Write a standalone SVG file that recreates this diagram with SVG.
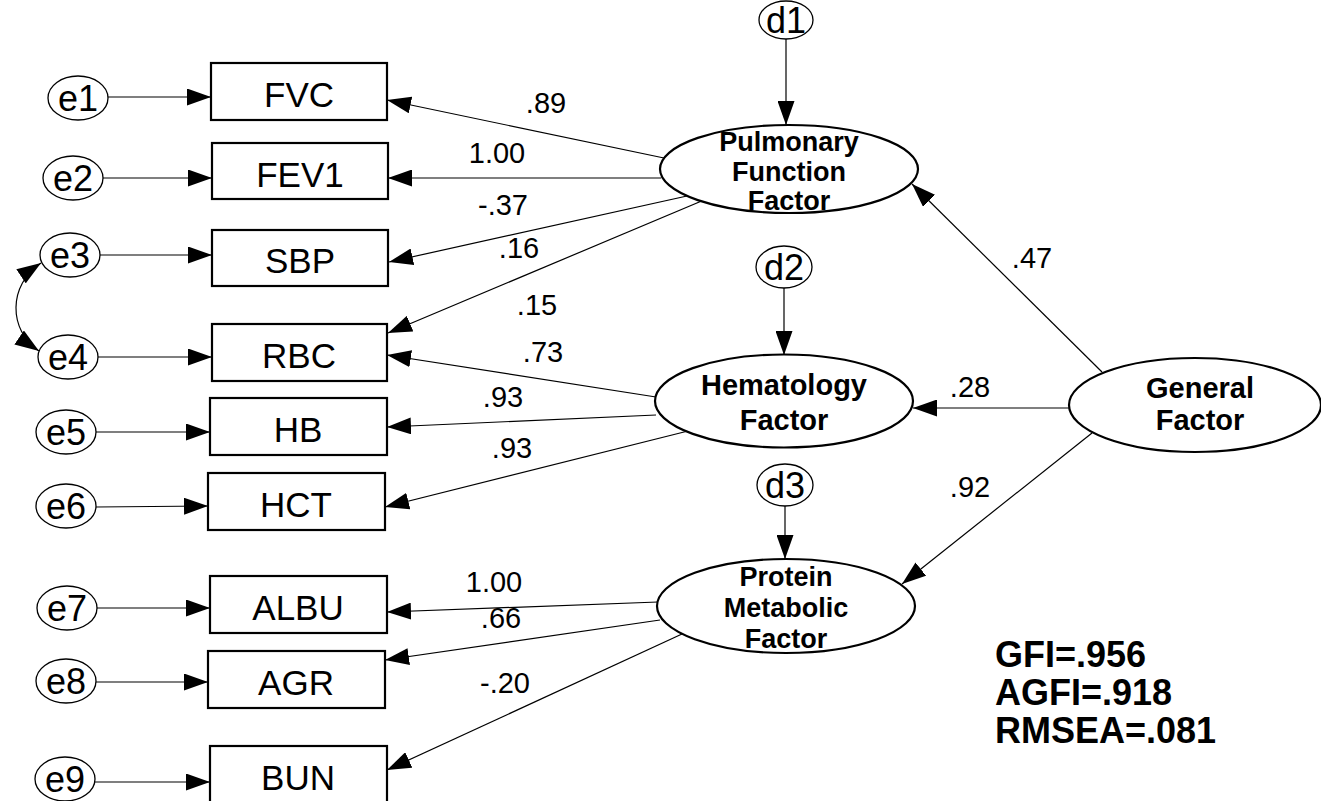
<svg xmlns="http://www.w3.org/2000/svg" width="1321" height="801" viewBox="0 0 1321 801">
  <style>
    .bg { fill: #ffffff; }
    .box { fill: #ffffff; stroke: #000000; stroke-width: 2.2; }
    .err { fill: #ffffff; stroke: #000000; stroke-width: 1.3; }
    .lat { fill: #ffffff; stroke: #000000; stroke-width: 2.2; }
    .edge { fill: none; stroke: #000000; stroke-width: 1.2; marker-end: url(#head); }
    .cov { fill: none; stroke: #000000; stroke-width: 1.2; marker-start: url(#head); marker-end: url(#head); }
    text { font-family: "Liberation Sans", Arial, sans-serif; fill: #000000; text-anchor: middle; }
    .obs { font-size: 35px; }
    .etx { font-size: 36px; }
    .ltx { font-size: 27px; font-weight: bold; }
    .wt { font-size: 29px; }
    .fit { font-size: 36px; font-weight: bold; text-anchor: start; }
  </style>
  <defs>
    <marker id="head" markerUnits="userSpaceOnUse" viewBox="0 0 24 17" refX="24" refY="8.5" markerWidth="24" markerHeight="17" orient="auto-start-reverse">
      <path d="M0,0 L24,8.5 L0,17 z" fill="#000000"/>
    </marker>
  </defs>
  <rect class="bg" x="0" y="0" width="1321" height="801"/>

  <!-- paths, loadings and residual arrows -->
  <g id="connectors">
    <path class="edge" d="M108,97 L211,97"/>
    <path class="edge" d="M103,178 L212,178"/>
    <path class="edge" d="M100,255 L212,255"/>
    <path class="edge" d="M98,357 L212,357"/>
    <path class="edge" d="M96,432 L210,432"/>
    <path class="edge" d="M96,507 L208,506"/>
    <path class="edge" d="M97,608 L210,608"/>
    <path class="edge" d="M96,682 L208,682"/>
    <path class="edge" d="M95,782 L210,782"/>
    <path class="cov" d="M41,263 C8,285 8,330 39,351"/>

    <path class="edge" d="M664,158 L387,100"/>
    <path class="edge" d="M661,178 L388,178"/>
    <path class="edge" d="M687,196 L389,262"/>
    <path class="edge" d="M704,200 L388,333"/>

    <path class="edge" d="M656,397 L387,355"/>
    <path class="edge" d="M656,415 L387,427"/>
    <path class="edge" d="M688,431 L385,507"/>

    <path class="edge" d="M658,602 L387,612"/>
    <path class="edge" d="M660,620 L385,660"/>
    <path class="edge" d="M682,634 L387,770"/>

    <path class="edge" d="M1102,372 L912,184"/>
    <path class="edge" d="M1069,408 L913,408"/>
    <path class="edge" d="M1092,433 L902,584"/>

    <path class="edge" d="M786,39 L786,125"/>
    <path class="edge" d="M784,288 L784,355"/>
    <path class="edge" d="M785,506 L785,559"/>
  </g>

  <g id="weights">
    <text class="wt" x="546" y="113">.89</text>
    <text class="wt" x="497" y="163">1.00</text>
    <text class="wt" x="503" y="215">-.37</text>
    <text class="wt" x="519" y="258">.16</text>
    <text class="wt" x="537" y="315">.15</text>
    <text class="wt" x="543" y="362">.73</text>
    <text class="wt" x="503" y="407">.93</text>
    <text class="wt" x="512" y="458">.93</text>
    <text class="wt" x="1032" y="268">.47</text>
    <text class="wt" x="970" y="397">.28</text>
    <text class="wt" x="970" y="497">.92</text>
    <text class="wt" x="494" y="592">1.00</text>
    <text class="wt" x="501" y="628">.66</text>
    <text class="wt" x="505" y="693">-.20</text>
  </g>

  <!-- residual terms -->
  <g id="e1"><ellipse class="err" cx="78" cy="98" rx="30" ry="22"/><text class="etx" x="78" y="111">e1</text></g>
  <g id="e2"><ellipse class="err" cx="73" cy="178" rx="30" ry="22"/><text class="etx" x="73" y="191">e2</text></g>
  <g id="e3"><ellipse class="err" cx="70" cy="255" rx="30" ry="22"/><text class="etx" x="70" y="268">e3</text></g>
  <g id="e4"><ellipse class="err" cx="68" cy="357" rx="30" ry="22"/><text class="etx" x="68" y="370">e4</text></g>
  <g id="e5"><ellipse class="err" cx="66" cy="432" rx="30" ry="22"/><text class="etx" x="66" y="445">e5</text></g>
  <g id="e6"><ellipse class="err" cx="66" cy="506" rx="30" ry="22"/><text class="etx" x="66" y="519">e6</text></g>
  <g id="e7"><ellipse class="err" cx="67" cy="608" rx="30" ry="22"/><text class="etx" x="67" y="621">e7</text></g>
  <g id="e8"><ellipse class="err" cx="66" cy="681" rx="30" ry="22"/><text class="etx" x="66" y="694">e8</text></g>
  <g id="e9"><ellipse class="err" cx="65" cy="779" rx="30" ry="22"/><text class="etx" x="65" y="792">e9</text></g>

  <!-- observed variables -->
  <g id="FVC"><rect class="box" x="211" y="63" width="176" height="57"/><text class="obs" x="299" y="107">FVC</text></g>
  <g id="FEV1"><rect class="box" x="212" y="143" width="176" height="56"/><text class="obs" x="300" y="187">FEV1</text></g>
  <g id="SBP"><rect class="box" x="212" y="230" width="176" height="56"/><text class="obs" x="300" y="273">SBP</text></g>
  <g id="RBC"><rect class="box" x="212" y="324" width="175" height="57"/><text class="obs" x="299" y="368">RBC</text></g>
  <g id="HB"><rect class="box" x="210" y="398" width="177" height="57"/><text class="obs" x="298" y="442">HB</text></g>
  <g id="HCT"><rect class="box" x="208" y="473" width="177" height="57"/><text class="obs" x="296" y="517">HCT</text></g>
  <g id="ALBU"><rect class="box" x="210" y="576" width="177" height="57"/><text class="obs" x="298" y="620">ALBU</text></g>
  <g id="AGR"><rect class="box" x="208" y="651" width="177" height="57"/><text class="obs" x="296" y="695">AGR</text></g>
  <g id="BUN"><rect class="box" x="210" y="746" width="177" height="57"/><text class="obs" x="298" y="790">BUN</text></g>

  <!-- disturbances -->
  <g id="d1"><ellipse class="err" cx="786" cy="20" rx="27" ry="19"/><text class="etx" x="786" y="33">d1</text></g>
  <g id="d2"><ellipse class="err" cx="784" cy="267" rx="28" ry="21"/><text class="etx" x="784" y="280">d2</text></g>
  <g id="d3"><ellipse class="err" cx="785" cy="485" rx="28" ry="21"/><text class="etx" x="785" y="498">d3</text></g>

  <!-- latent factors -->
  <g id="pulmonary">
    <ellipse class="lat" cx="789" cy="169" rx="129" ry="44"/>
    <text class="ltx" x="789" y="151">Pulmonary</text>
    <text class="ltx" x="789" y="181">Function</text>
    <text class="ltx" x="789" y="210">Factor</text>
  </g>
  <g id="hematology">
    <ellipse class="lat" cx="784" cy="401" rx="129" ry="46.5"/>
    <text class="ltx" x="784" y="395" style="font-size:29px">Hematology</text>
    <text class="ltx" x="784" y="430" style="font-size:29px">Factor</text>
  </g>
  <g id="protein">
    <ellipse class="lat" cx="786" cy="606" rx="129" ry="47"/>
    <text class="ltx" x="786" y="586">Protein</text>
    <text class="ltx" x="786" y="617">Metabolic</text>
    <text class="ltx" x="786" y="648">Factor</text>
  </g>
  <g id="general">
    <ellipse class="lat" cx="1195" cy="405" rx="126" ry="47"/>
    <text class="ltx" x="1200" y="398" style="font-size:29px">General</text>
    <text class="ltx" x="1200" y="430" style="font-size:29px">Factor</text>
  </g>

  <g id="fit">
    <text class="fit" x="995" y="667">GFI=.956</text>
    <text class="fit" x="995" y="705">AGFI=.918</text>
    <text class="fit" x="995" y="743">RMSEA=.081</text>
  </g>
</svg>
